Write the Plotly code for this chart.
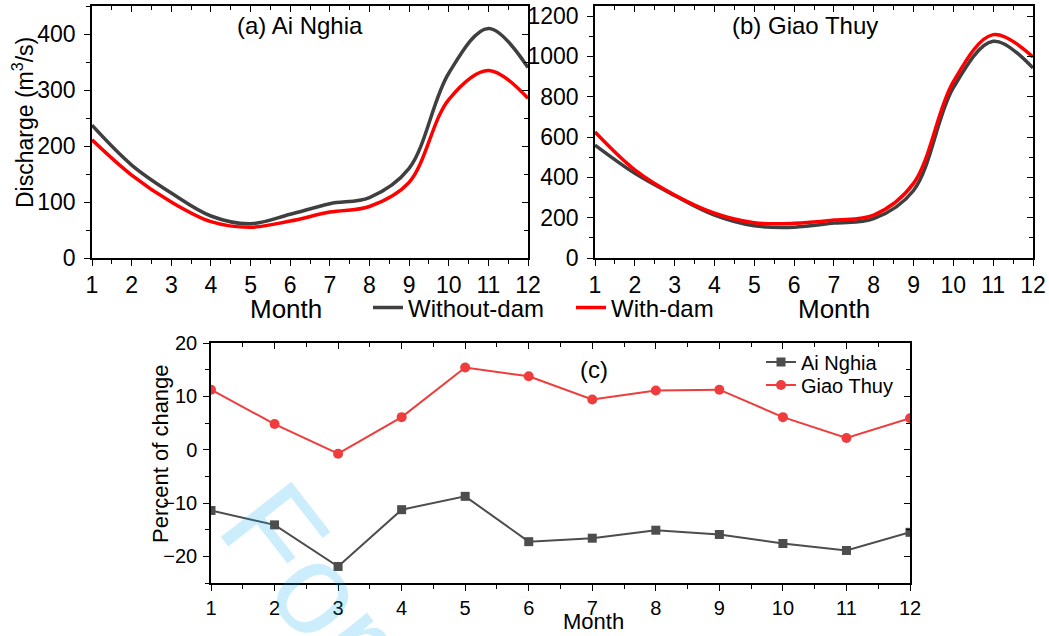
import plotly.graph_objects as go

# ---------------- data ----------------
months = [1, 2, 3, 4, 5, 6, 7, 8, 9, 10, 11, 12]

ai_without = [237, 166, 116, 75, 61, 78, 97, 108, 160, 330, 410, 340]
ai_with = [211, 148, 100, 65, 55, 66, 82, 92, 135, 283, 335, 285]

gt_without = [560, 420, 310, 213, 160, 153, 173, 195, 335, 845, 1075, 942]
gt_with = [625, 437, 312, 222, 175, 172, 188, 213, 370, 875, 1108, 997]

pct_ai = [-11.4, -14.1, -21.9, -11.25, -8.75, -17.25, -16.6, -15.1, -15.9, -17.6, -18.9, -15.5]
pct_gt = [11.25, 4.8, -0.75, 6.1, 15.4, 13.75, 9.4, 11.1, 11.25, 6.1, 2.2, 5.9]

x_ticks = list(range(1, 13))

W, H = 1049, 636
FONT = "Liberation Sans, Arial, sans-serif"
GREY = "#3f3f3f"
RED = "#ff0000"
GREY2 = "#4d4d4d"
RED2 = "#f03c3c"


def px(x):
    return x / W


def py(y):
    return 1 - y / H


fig = go.Figure()

# panel a
fig.add_trace(go.Scatter(x=months, y=ai_without, mode="lines", name="Without-dam",
                         line=dict(color=GREY, width=3.5, shape="spline", smoothing=1.0),
                         xaxis="x", yaxis="y", legend="legend"))
fig.add_trace(go.Scatter(x=months, y=ai_with, mode="lines", name="With-dam",
                         line=dict(color=RED, width=3.5, shape="spline", smoothing=1.0),
                         xaxis="x", yaxis="y", legend="legend2"))
# panel b
fig.add_trace(go.Scatter(x=months, y=gt_without, mode="lines", name="Without-dam", showlegend=False,
                         line=dict(color=GREY, width=3.5, shape="spline", smoothing=1.0),
                         xaxis="x2", yaxis="y2"))
fig.add_trace(go.Scatter(x=months, y=gt_with, mode="lines", name="With-dam", showlegend=False,
                         line=dict(color=RED, width=3.5, shape="spline", smoothing=1.0),
                         xaxis="x2", yaxis="y2"))
# panel c
fig.add_trace(go.Scatter(x=months, y=pct_ai, mode="lines+markers", name="Ai Nghia",
                         line=dict(color=GREY2, width=2),
                         marker=dict(symbol="square", size=9, color=GREY2),
                         xaxis="x3", yaxis="y3", legend="legend3"))
fig.add_trace(go.Scatter(x=months, y=pct_gt, mode="lines+markers", name="Giao Thuy",
                         line=dict(color=RED2, width=2),
                         marker=dict(symbol="circle", size=10, color=RED2),
                         xaxis="x3", yaxis="y3", legend="legend4"))

# dummy traces to activate mirror axes
for xa, ya in (("x4", "y4"), ("x5", "y5"), ("x6", "y6")):
    fig.add_trace(go.Scatter(x=[None], y=[None], xaxis=xa, yaxis=ya, showlegend=False,
                             hoverinfo="skip", mode="lines"))


def main_x(domain, anchor, tsize):
    return dict(domain=domain, anchor=anchor, range=[1, 12], tickmode="array",
                tickvals=x_ticks, ticktext=[str(v) for v in x_ticks],
                ticks="outside", ticklen=6, tickwidth=1.3, tickcolor="black",
                minor=dict(ticks="outside", ticklen=4, dtick=0.5, tick0=1, tickcolor="black", tickwidth=1.3),
                showline=True, linecolor="black", linewidth=1.5, mirror=True,
                showgrid=False, zeroline=False, automargin=False,
                tickfont=dict(family=FONT, size=tsize, color="black"))


def main_y(domain, anchor, rng, dtick, mdtick, tsize, standoff):
    return dict(domain=domain, anchor=anchor, range=rng, dtick=dtick, tick0=0,
                ticks="outside", ticklen=6, tickwidth=1.3, tickcolor="black",
                minor=dict(ticks="outside", ticklen=4, dtick=mdtick, tick0=0, tickcolor="black", tickwidth=1.3),
                showline=True, linecolor="black", linewidth=1.5, mirror=True,
                showgrid=False, zeroline=False, automargin=False,
                ticklabelstandoff=standoff,
                tickfont=dict(family=FONT, size=tsize, color="black"))


def mirror_x(domain, anchor, over):
    return dict(domain=domain, anchor=anchor, overlaying=over, side="top", range=[1, 12],
                tickmode="array", tickvals=x_ticks, showticklabels=False,
                ticks="inside", ticklen=6, tickwidth=1.3, tickcolor="black",
                minor=dict(ticks="inside", ticklen=4, dtick=0.5, tick0=1, tickcolor="black", tickwidth=1.3),
                showline=False, showgrid=False, zeroline=False, automargin=False)


def mirror_y(domain, anchor, over, rng, dtick, mdtick):
    return dict(domain=domain, anchor=anchor, overlaying=over, side="right", range=rng,
                dtick=dtick, tick0=0, showticklabels=False,
                ticks="inside", ticklen=6, tickwidth=1.3, tickcolor="black",
                minor=dict(ticks="inside", ticklen=4, dtick=mdtick, tick0=0, tickcolor="black", tickwidth=1.3),
                showline=False, showgrid=False, zeroline=False, automargin=False)


def leg(x, y, size):
    return dict(orientation="v", x=px(x), y=py(y), xanchor="left", yanchor="middle",
                font=dict(family=FONT, size=size, color="black"), bgcolor="rgba(0,0,0,0)",
                borderwidth=0, itemwidth=30)


xa_dom = [px(92), px(528)]
xb_dom = [px(595), px(1033)]
xc_dom = [px(211), px(910)]
ytop_dom = [py(258), py(6)]
yc_dom = [py(583), py(343)]

fig.update_layout(
    width=W, height=H,
    margin=dict(l=0, r=0, t=0, b=0, autoexpand=False),
    paper_bgcolor="white", plot_bgcolor="white",
    font=dict(family=FONT, color="black"),
    xaxis=main_x(xa_dom, "y", 23),
    yaxis=main_y(ytop_dom, "x", [0, 450], 100, 50, 23, 4),
    xaxis2=main_x(xb_dom, "y2", 23),
    yaxis2=main_y(ytop_dom, "x2", [0, 1250], 200, 100, 23, 4),
    xaxis3=main_x(xc_dom, "y3", 20),
    yaxis3=main_y(yc_dom, "x3", [-25, 20], 10, 5, 20, 2),
    xaxis4=mirror_x(xa_dom, "y4", "x"),
    yaxis4=mirror_y(ytop_dom, "x4", "y", [0, 450], 100, 50),
    xaxis5=mirror_x(xb_dom, "y5", "x2"),
    yaxis5=mirror_y(ytop_dom, "x5", "y2", [0, 1250], 200, 100),
    xaxis6=mirror_x(xc_dom, "y6", "x3"),
    yaxis6=mirror_y(yc_dom, "x6", "y3", [-25, 20], 10, 5),
    legend=leg(368, 308, 24),
    legend2=leg(571, 308, 24),
    legend3=leg(761, 362, 20),
    legend4=leg(761, 385, 20),
    showlegend=True,
)

annos = [
    dict(text="(a) Ai Nghia", x=px(300), y=py(26), size=24),
    dict(text="(b) Giao Thuy", x=px(805), y=py(25), size=24),
    dict(text="(c)", x=px(594), y=py(369), size=24),
    dict(text="Month", x=px(286), y=py(309), size=26),
    dict(text="Month", x=px(834), y=py(309), size=26),
    dict(text="Month", x=px(593), y=py(621), size=22),
]
for a in annos:
    fig.add_annotation(text=a["text"], x=a["x"], y=a["y"], xref="paper", yref="paper",
                       showarrow=False, xanchor="center", yanchor="middle",
                       font=dict(family=FONT, size=a["size"], color="black"))

fig.add_annotation(text="Discharge (m<sup>3</sup>/s)", x=px(23), y=py(123), xref="paper", yref="paper",
                   showarrow=False, textangle=-90, xanchor="center", yanchor="middle",
                   font=dict(family=FONT, size=23, color="black"))
fig.add_annotation(text="Percent of change", x=px(161), y=py(454), xref="paper", yref="paper",
                   showarrow=False, textangle=-90, xanchor="center", yanchor="middle",
                   font=dict(family=FONT, size=22, color="black"))

# watermark
fig.add_annotation(text="For", x=px(310), y=py(578), xref="paper", yref="paper",
                   showarrow=False, textangle=52, xanchor="center", yanchor="middle",
                   font=dict(family=FONT, size=130, color="rgba(0,170,240,0.2)"))

fig.write_html("out.html")
